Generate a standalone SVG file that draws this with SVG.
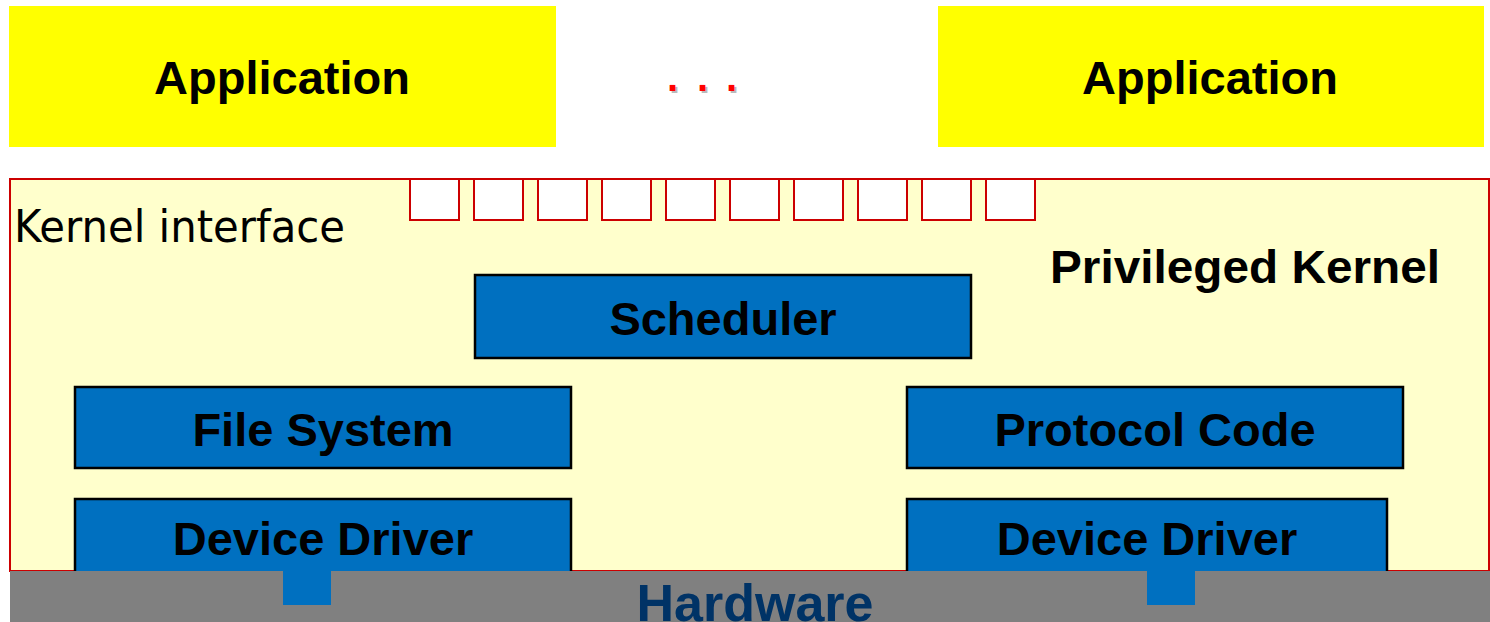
<svg xmlns="http://www.w3.org/2000/svg" width="1490" height="622" viewBox="0 0 1490 622">
<style>
.app{fill:#FFFF00}
.mod{fill:#0070C0;stroke:#000;stroke-width:2.5}
.nub{fill:#0070C0}
.port{fill:#FFFFFF;stroke:#CC0000;stroke-width:2}
.bt{font-family:"Liberation Sans",Arial,sans-serif;font-weight:bold;font-size:47px;fill:#000;text-anchor:middle}
</style>
<rect width="1490" height="622" fill="#FFFFFF"/>
<g id="app1"><rect class="app" x="9" y="6" width="547" height="141"/><text class="bt" x="282" y="94">Application</text></g>
<g id="dots"><text x="667 697 726" y="91" font-family="Liberation Sans,Arial,sans-serif" font-weight="bold" font-size="40" fill="#BBBBBB" transform="translate(2,2)">...</text><text x="667 697 726" y="91" font-family="Liberation Sans,Arial,sans-serif" font-weight="bold" font-size="40" fill="#FF0000">...</text></g>
<g id="app2"><rect class="app" x="938" y="6" width="546" height="141"/><text class="bt" x="1210" y="94">Application</text></g>
<g id="kernel"><rect x="10" y="179" width="1479" height="392" fill="#FFFFCC" stroke="#CC0000" stroke-width="2"/>
<text x="14" y="242" font-family="DejaVu Sans,Verdana,sans-serif" font-size="45" fill="#000" textLength="331" lengthAdjust="spacingAndGlyphs">Kernel interface</text>
<text x="1050" y="283" font-family="Liberation Sans,Arial,sans-serif" font-weight="bold" font-size="47" fill="#000" textLength="390" lengthAdjust="spacingAndGlyphs">Privileged Kernel</text></g>
<g id="interface"><rect class="port" x="410" y="179" width="49" height="41"/><rect class="port" x="474" y="179" width="49" height="41"/><rect class="port" x="538" y="179" width="49" height="41"/><rect class="port" x="602" y="179" width="49" height="41"/><rect class="port" x="666" y="179" width="49" height="41"/><rect class="port" x="730" y="179" width="49" height="41"/><rect class="port" x="794" y="179" width="49" height="41"/><rect class="port" x="858" y="179" width="49" height="41"/><rect class="port" x="922" y="179" width="49" height="41"/><rect class="port" x="986" y="179" width="49" height="41"/></g>
<g id="scheduler"><rect class="mod" x="475" y="275" width="496" height="83"/><text class="bt" x="723" y="335">Scheduler</text></g>
<g id="filesystem"><rect class="mod" x="75" y="387" width="496" height="81"/><text class="bt" x="323" y="446">File System</text></g>
<g id="protocol"><rect class="mod" x="907" y="387" width="496" height="81"/><text class="bt" x="1155" y="446">Protocol Code</text></g>
<g id="driver1"><rect class="mod" x="75" y="499" width="496" height="90"/><text class="bt" x="323" y="555">Device Driver</text></g>
<g id="driver2"><rect class="mod" x="907" y="499" width="480" height="90"/><text class="bt" x="1147" y="555">Device Driver</text></g>
<g id="hardware"><rect x="10" y="571" width="1480" height="51" fill="#808080"/><text x="755" y="621" font-family="Liberation Sans,Arial,sans-serif" font-weight="bold" font-size="52" fill="#003366" text-anchor="middle">Hardware</text></g>
<g id="connectors"><rect class="nub" x="283" y="570" width="48" height="35"/><rect class="nub" x="1147" y="570" width="48" height="35"/></g>
</svg>
